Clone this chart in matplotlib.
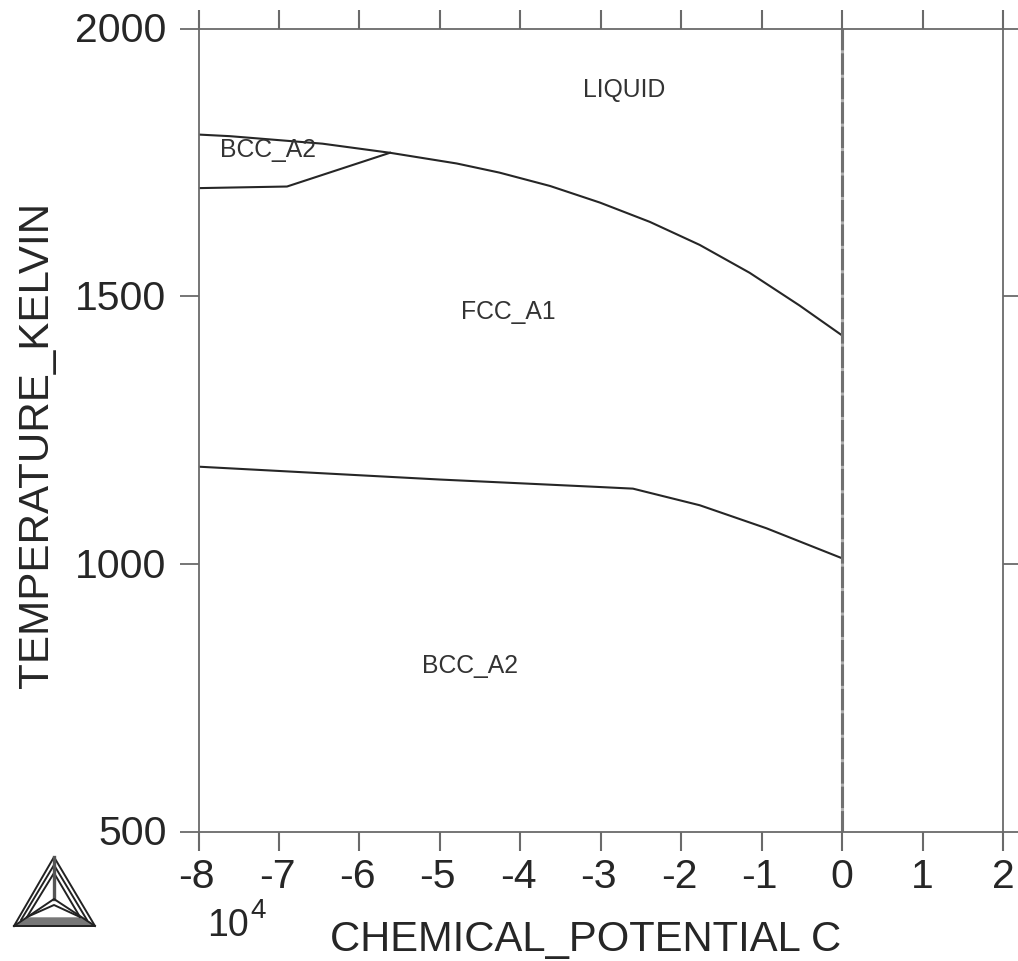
import matplotlib
matplotlib.use("Agg")
import matplotlib.pyplot as plt
from matplotlib.lines import Line2D
from matplotlib.patches import Polygon
from matplotlib.transforms import ScaledTranslation

plt.rcParams['font.family'] = ['Liberation Sans', 'DejaVu Sans']
plt.rcParams['axes.unicode_minus'] = False

W, H = 1018, 962

upper_mu = [-8.0, -7.61, -6.46, -5.62, -4.79, -4.26, -3.63, -3.01, -2.39, -1.77, -1.15, -0.53, 0.0]
upper_T = [1802, 1799, 1785, 1768, 1748, 1731, 1706, 1675, 1639, 1596, 1544, 1483, 1427]
bcc_mu = [-8.0, -6.9, -6.25, -5.62]
bcc_T = [1702, 1705, 1737, 1768]
lower_mu = [-8.0, -5.0, -3.01, -2.6, -1.77, -0.94, 0.0]
lower_T = [1182, 1158, 1144, 1141, 1110, 1067, 1011]
x_ticks = [-8, -7, -6, -5, -4, -3, -2, -1, 0, 1, 2]
y_ticks = [500, 1000, 1500, 2000]
phase_labels = ["LIQUID", "BCC_A2", "FCC_A1", "BCC_A2"]
phase_mu = [-2.71, -7.14, -4.15, -4.62]
phase_T = [1887, 1775, 1472, 811]

fig = plt.figure(figsize=(W / 100, H / 100), dpi=100)
ax = fig.add_axes([198.5 / W, 1 - 833 / H, (1003 - 198.5) / W, (833 - 29.5) / H])
ax.set_xlim(-8, 2)
ax.set_ylim(500, 2000)

grey = '#6a6a6a'
ink = '#262626'
for s in ax.spines.values():
    s.set_color(grey)
    s.set_linewidth(1.3)

ax.set_xticks(x_ticks)
ax.set_yticks(y_ticks)
ax.tick_params(axis='x', which='both', direction='out', top=True, bottom=True,
               length=14, width=1.5, color=grey, labelsize=29.5, pad=4, labelcolor=ink)
ax.tick_params(axis='y', which='both', direction='out', left=True, right=True,
               length=14, width=1.3, color=grey, labelsize=29.5, pad=9, labelcolor=ink)

for lbl in ax.get_yticklabels():
    lbl.set_transform(lbl.get_transform() + ScaledTranslation(0, 2.5 / 100, fig.dpi_scale_trans))
for lbl, v in zip(ax.get_xticklabels(), x_ticks):
    if v < 0:
        lbl.set_transform(lbl.get_transform() + ScaledTranslation(-2 / 100, 0, fig.dpi_scale_trans))

ax.plot(upper_mu, upper_T, color=ink, lw=1.5)
ax.plot(bcc_mu, bcc_T, color=ink, lw=1.5)
ax.plot(lower_mu, lower_T, color=ink, lw=1.5)
ax.axvline(0, color='#b0b0b0', lw=2.2)
ax.axvline(0, color='#707070', lw=2.2, ls=(0, (7, 1)))

for lab, m, t in zip(phase_labels, phase_mu, phase_T):
    ax.text(m, t, lab, fontsize=17.8, color='#333333', ha='center', va='center')

ax.set_xlabel("CHEMICAL_POTENTIAL C", fontsize=30.1, color=ink, labelpad=0)
ax.xaxis.set_label_coords((586 - 198.5) / 804.5, -(940 - 833) / 803.5, transform=ax.transAxes)
ax.xaxis.label.set_va('center')
ax.set_ylabel("TEMPERATURE_KELVIN", fontsize=30.3, color=ink)
ax.yaxis.set_label_coords(-(198.5 - 37) / 804.5, (833 - 445) / 803.5, transform=ax.transAxes)
ax.yaxis.label.set_va('center')

fig.text(207 / W, 1 - 926 / H, "10", fontsize=27, color=ink, ha='left', va='center')
fig.text(250 / W, 1 - 911 / H, "4", fontsize=20, color=ink, ha='left', va='center')


def fx(px):
    return px / W


def fy(py):
    return 1 - py / H


def seg(x, y, lw=1.4, color='#222222'):
    fig.add_artist(Line2D([fx(v) for v in x], [fy(v) for v in y], color=color, lw=lw,
                          transform=fig.transFigure))


fig.add_artist(Polygon([(fx(27), fy(919)), (fx(81), fy(919)), (fx(94), fy(927)), (fx(14), fy(927))],
                       closed=True, color='#777777', transform=fig.transFigure))
seg([14, 54, 95, 14], [927, 858, 927, 927])
seg([21, 54, 87], [921, 866, 921])
seg([27, 54, 80], [918, 874, 918])
seg([54, 54], [858, 900], lw=2.4, color='#555555')
seg([14, 54, 95], [927, 900, 927])
seg([27, 54, 80], [918, 906, 918])

fig.savefig("out.png", dpi=100)
